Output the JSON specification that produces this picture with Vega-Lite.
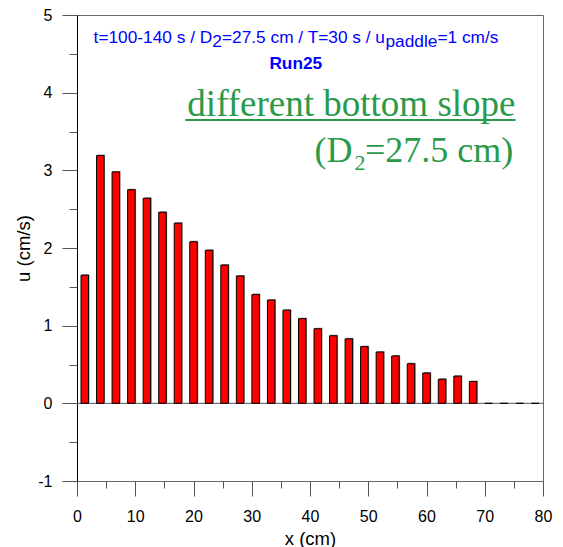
{
  "$schema": "https://vega.github.io/schema/vega-lite/v6.json",
  "width": 466,
  "height": 466,
  "autosize": {"type": "none"},
  "padding": {"left": 77, "top": 15, "right": 20, "bottom": 66},
  "config": {
    "view": {"stroke": "#666", "strokeWidth": 1},
    "font": "Liberation Sans",
    "axis": {"grid": false, "labelFont": "Liberation Sans", "titleFont": "Liberation Sans", "labelColor": "#000", "titleColor": "#000", "titleFontWeight": "normal"}
  },
  "data": {
    "values": [
      {"x": 1.333, "u": 1.65}, {"x": 4.0, "u": 3.19}, {"x": 6.667, "u": 2.98}, {"x": 9.333, "u": 2.75},
      {"x": 12.0, "u": 2.64}, {"x": 14.667, "u": 2.46}, {"x": 17.333, "u": 2.32}, {"x": 20.0, "u": 2.08},
      {"x": 22.667, "u": 1.97}, {"x": 25.333, "u": 1.78}, {"x": 28.0, "u": 1.64}, {"x": 30.667, "u": 1.40},
      {"x": 33.333, "u": 1.33}, {"x": 36.0, "u": 1.20}, {"x": 38.667, "u": 1.09}, {"x": 41.333, "u": 0.96},
      {"x": 44.0, "u": 0.87}, {"x": 46.667, "u": 0.83}, {"x": 49.333, "u": 0.73}, {"x": 52.0, "u": 0.66},
      {"x": 54.667, "u": 0.61}, {"x": 57.333, "u": 0.51}, {"x": 60.0, "u": 0.39}, {"x": 62.667, "u": 0.31},
      {"x": 65.333, "u": 0.35}, {"x": 68.0, "u": 0.28}, {"x": 70.667, "u": 0}, {"x": 73.333, "u": 0},
      {"x": 76.0, "u": 0}, {"x": 78.667, "u": 0}
    ]
  },
  "resolve": {"axis": {"x": "independent", "y": "independent"}},
  "layer": [
    {
      "data": {"values": [{}]},
      "mark": {"type": "rule", "color": "#555", "strokeWidth": 1},
      "encoding": {
        "y": {"datum": 0, "type": "quantitative", "scale": {"domain": [-1, 5], "nice": false, "zero": false, "padding": 0},
          "axis": {"orient": "left", "values": [-0.5, 0.5, 1.5, 2.5, 3.5, 4.5], "tickSize": 8, "tickColor": "#555", "labels": false, "domain": false, "title": null}},
        "x": {"datum": 0, "type": "quantitative", "scale": {"domain": [0, 80], "nice": false, "zero": false, "padding": 0},
          "axis": {"orient": "bottom", "values": [5, 15, 25, 35, 45, 55, 65, 75], "tickSize": 7, "tickColor": "#555", "labels": false, "domain": false, "title": null}},
        "x2": {"datum": 80}
      }
    },
    {
      "mark": {"type": "bar", "width": 7.5, "fill": "#8c8c8c", "xOffset": 1, "yOffset": -1},
      "encoding": {
        "x": {"field": "x", "type": "quantitative", "axis": null},
        "y": {"field": "u", "type": "quantitative", "axis": null}
      }
    },
    {
      "mark": {"type": "bar", "width": 7.5, "fill": "#ff0000", "stroke": "#000", "strokeWidth": 1},
      "encoding": {
        "x": {"field": "x", "type": "quantitative",
          "axis": {"orient": "bottom", "values": [0, 10, 20, 30, 40, 50, 60, 70, 80], "labelExpr": "datum.value", "tickSize": 15, "tickColor": "#555", "domainColor": "#666", "labelFontSize": 16, "labelPadding": 12, "labelFlush": false, "labelOverlap": false, "title": "x (cm)", "titleFontSize": 18.5, "titlePadding": 5}},
        "y": {"field": "u", "type": "quantitative",
          "axis": {"orient": "left", "values": [-1, 0, 1, 2, 3, 4, 5], "labelExpr": "datum.value", "tickSize": 15, "tickColor": "#555", "domainColor": "#000", "labelFontSize": 16, "labelPadding": 10, "labelFlush": false, "labelOverlap": false, "title": "u (cm/s)", "titleFontSize": 18.5, "titlePadding": 4}}
      }
    },
    {
      "data": {"values": [{}]},
      "mark": {"type": "text", "text": "t=100-140 s / D", "align": "left", "baseline": "alphabetic", "fontSize": 17.3, "color": "#0000ff", "font": "Liberation Sans"},
      "encoding": {"x": {"datum": 2.85, "type": "quantitative", "axis": null}, "y": {"datum": 4.636, "type": "quantitative", "axis": null}}
    },
    {
      "data": {"values": [{}]},
      "mark": {"type": "text", "text": "2", "align": "left", "baseline": "alphabetic", "fontSize": 17.3, "color": "#0000ff", "font": "Liberation Sans"},
      "encoding": {"x": {"datum": 23.24, "type": "quantitative", "axis": null}, "y": {"datum": 4.585, "type": "quantitative", "axis": null}}
    },
    {
      "data": {"values": [{}]},
      "mark": {"type": "text", "text": "=27.5 cm / T=30 s / u", "align": "left", "baseline": "alphabetic", "fontSize": 17.3, "color": "#0000ff", "font": "Liberation Sans"},
      "encoding": {"x": {"datum": 24.89, "type": "quantitative", "axis": null}, "y": {"datum": 4.636, "type": "quantitative", "axis": null}}
    },
    {
      "data": {"values": [{}]},
      "mark": {"type": "text", "text": "paddle", "align": "left", "baseline": "alphabetic", "fontSize": 17.3, "color": "#0000ff", "font": "Liberation Sans"},
      "encoding": {"x": {"datum": 52.96, "type": "quantitative", "axis": null}, "y": {"datum": 4.585, "type": "quantitative", "axis": null}}
    },
    {
      "data": {"values": [{}]},
      "mark": {"type": "text", "text": "=1 cm/s", "align": "left", "baseline": "alphabetic", "fontSize": 17.3, "color": "#0000ff", "font": "Liberation Sans"},
      "encoding": {"x": {"datum": 61.87, "type": "quantitative", "axis": null}, "y": {"datum": 4.636, "type": "quantitative", "axis": null}}
    },
    {
      "data": {"values": [{}]},
      "mark": {"type": "text", "text": "Run25", "align": "center", "baseline": "alphabetic", "fontSize": 17.3, "fontWeight": "bold", "color": "#0000ff", "font": "Liberation Sans"},
      "encoding": {"x": {"datum": 37.56, "type": "quantitative", "axis": null}, "y": {"datum": 4.301, "type": "quantitative", "axis": null}}
    },
    {
      "data": {"values": [{}]},
      "mark": {"type": "text", "text": "different bottom slope", "align": "right", "baseline": "alphabetic", "fontSize": 37, "color": "#2a9a4a", "font": "Liberation Serif"},
      "encoding": {"x": {"datum": 75.28, "type": "quantitative", "axis": null}, "y": {"datum": 3.70, "type": "quantitative", "axis": null}}
    },
    {
      "data": {"values": [{}]},
      "mark": {"type": "rule", "color": "#2a9a4a", "strokeWidth": 2},
      "encoding": {"x": {"datum": 18.6, "type": "quantitative", "axis": null}, "x2": {"datum": 75.28}, "y": {"datum": 3.648, "type": "quantitative", "axis": null}}
    },
    {
      "data": {"values": [{}]},
      "mark": {"type": "text", "text": "(D", "align": "right", "baseline": "alphabetic", "fontSize": 36, "color": "#2a9a4a", "font": "Liberation Serif"},
      "encoding": {"x": {"datum": 47.3, "type": "quantitative", "axis": null}, "y": {"datum": 3.107, "type": "quantitative", "axis": null}}
    },
    {
      "data": {"values": [{}]},
      "mark": {"type": "text", "text": "2", "align": "left", "baseline": "alphabetic", "fontSize": 22, "color": "#2a9a4a", "font": "Liberation Serif"},
      "encoding": {"x": {"datum": 47.65, "type": "quantitative", "axis": null}, "y": {"datum": 3.004, "type": "quantitative", "axis": null}}
    },
    {
      "data": {"values": [{}]},
      "mark": {"type": "text", "text": "=27.5 cm)", "align": "right", "baseline": "alphabetic", "fontSize": 36, "color": "#2a9a4a", "font": "Liberation Serif"},
      "encoding": {"x": {"datum": 74.9, "type": "quantitative", "axis": null}, "y": {"datum": 3.107, "type": "quantitative", "axis": null}}
    }
  ]
}
